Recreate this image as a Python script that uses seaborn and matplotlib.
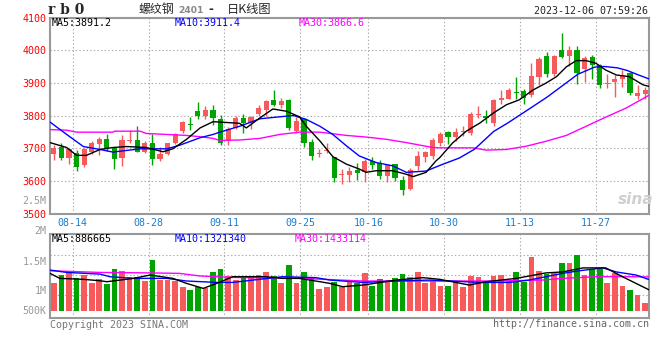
import numpy as np
import pandas as pd
import seaborn as sns
import matplotlib.pyplot as plt

W, H = 660, 360

# trading days shown: 08-09 .. 12-05 (79 days), x = day index
tick_labels = ['08-14', '08-28', '09-11', '09-25', '10-16', '10-30', '11-13', '11-27']
tick_days = [3, 13, 23, 33, 42, 52, 62, 72]

opens = [3681, 3704, 3669, 3686, 3648, 3688, 3712, 3727, 3702, 3670,
         3722, 3724, 3689, 3717, 3666, 3683, 3717, 3752, 3774, 3813,
         3798, 3816, 3790, 3722, 3762, 3793, 3777, 3806, 3818, 3848,
         3833, 3848, 3752, 3788, 3719, 3681, 3691, 3673, 3617, 3617,
         3633, 3626, 3661, 3654, 3615, 3651, 3602, 3575, 3645, 3673,
         3675, 3717, 3748, 3734, 3751, 3746, 3803, 3799, 3778, 3847,
         3852, 3871, 3875, 3862, 3918, 3981, 3926, 3999, 3981, 4002,
         3943, 3979, 3955, 3895, 3903, 3911, 3930, 3859, 3867]
closes = [3702, 3669, 3696, 3643, 3697, 3715, 3727, 3700, 3666, 3724,
          3724, 3689, 3717, 3668, 3681, 3715, 3742, 3780, 3771, 3800,
          3818, 3793, 3717, 3759, 3793, 3777, 3796, 3823, 3843, 3831,
          3843, 3762, 3783, 3717, 3676, 3684, 3694, 3610, 3621, 3631,
          3623, 3661, 3648, 3615, 3648, 3610, 3572, 3633, 3675, 3687,
          3726, 3743, 3734, 3751, 3754, 3805, 3806, 3791, 3847, 3854,
          3877, 3868, 3855, 3920, 3974, 3928, 3981, 3979, 3999, 3930,
          3977, 3955, 3893, 3898, 3913, 3921, 3869, 3869, 3879]
highs = [3709, 3717, 3702, 3693, 3702, 3722, 3733, 3742, 3705, 3739,
         3757, 3769, 3722, 3742, 3704, 3717, 3747, 3783, 3796, 3840,
         3830, 3833, 3803, 3765, 3800, 3806, 3798, 3833, 3848, 3877,
         3853, 3851, 3796, 3793, 3727, 3698, 3715, 3673, 3636, 3641,
         3654, 3666, 3674, 3664, 3651, 3653, 3615, 3638, 3690, 3692,
         3731, 3748, 3753, 3763, 3768, 3812, 3829, 3817, 3852, 3877,
         3884, 3918, 3882, 3961, 3979, 3994, 3984, 4052, 4014, 4014,
         3981, 3984, 3958, 3926, 3923, 3940, 3933, 3893, 3886]
lows = [3664, 3664, 3653, 3631, 3641, 3683, 3679, 3691, 3636, 3646,
        3717, 3688, 3686, 3649, 3661, 3680, 3712, 3745, 3757, 3788,
        3790, 3772, 3709, 3709, 3759, 3747, 3759, 3798, 3800, 3828,
        3823, 3755, 3745, 3704, 3664, 3674, 3684, 3597, 3590, 3597,
        3602, 3595, 3636, 3607, 3597, 3600, 3558, 3573, 3634, 3657,
        3667, 3707, 3712, 3722, 3738, 3741, 3791, 3778, 3768, 3835,
        3849, 3852, 3835, 3857, 3893, 3918, 3920, 3977, 3953, 3895,
        3903, 3913, 3883, 3883, 3857, 3888, 3862, 3849, 3852]
# volume, millions of lots
volume = [1.19, 1.51, 1.65, 1.40, 1.51, 1.19, 1.33, 1.13, 1.76, 1.68,
          1.41, 1.41, 1.26, 2.14, 1.30, 1.30, 1.26, 1.02, 0.88, 1.02,
          0.95, 1.65, 1.76, 1.47, 1.30, 1.44, 1.44, 1.51, 1.64, 1.47,
          1.19, 1.93, 1.16, 1.65, 1.41, 0.92, 1.02, 1.23, 1.02, 1.20,
          1.16, 1.61, 1.05, 1.33, 1.30, 1.40, 1.55, 1.44, 1.65, 1.16,
          1.30, 1.05, 1.05, 1.23, 1.02, 1.47, 1.44, 1.23, 1.47, 1.51,
          1.26, 1.65, 1.23, 2.28, 1.69, 1.55, 1.61, 2.00, 2.00, 2.35,
          1.51, 1.75, 1.75, 1.19, 1.61, 1.05, 0.88, 0.67, 0.35]

# moving average lines (x in day index)
ma5_x = [-0.5, 1.7, 3.0, 4.3, 6.1, 7.8, 9.6, 12.2, 14.4, 15.7, 17.5, 19.3, 21.0,
         21.9, 24.5, 25.4, 27.2, 28.9, 30.7, 32.4, 33.3, 35.1, 36.8, 38.6, 40.3,
         41.2, 42.5, 44.7, 46.5, 47.4, 49.1, 50.4, 50.9, 52.6, 54.4, 56.2, 58.0,
         59.7, 61.4, 63.2, 64.9, 66.3, 67.6, 68.9, 70.2, 71.5, 72.8, 74.2, 75.9,
         77.7, 78.5]
ma5_y = [3717, 3702, 3678, 3678, 3696, 3702, 3705, 3702, 3689, 3698, 3727, 3762, 3781,
         3780, 3776, 3762, 3793, 3820, 3813, 3796, 3767, 3722, 3674, 3651, 3636,
         3626, 3631, 3631, 3620, 3613, 3626, 3661, 3671, 3716, 3752, 3777, 3808,
         3833, 3848, 3878, 3899, 3919, 3949, 3968, 3968, 3960, 3939, 3924, 3919,
         3894, 3889]
ma10_x = [-0.5, 1.7, 3.9, 6.1, 7.8, 11.4, 14.9, 16.6, 19.3, 21.0, 21.9, 24.5, 27.2,
          29.8, 31.6, 33.3, 35.1, 36.8, 38.6, 40.3, 42.5, 44.7, 46.5, 49.1, 51.0,
          53.5, 55.5, 58.0, 59.8, 62.5, 65.1, 66.9, 69.1, 71.3, 72.6, 74.3, 75.6,
          76.9, 78.5]
ma10_y = [3780, 3742, 3705, 3696, 3688, 3698, 3698, 3709, 3732, 3742, 3749, 3767, 3790,
          3796, 3800, 3788, 3767, 3742, 3707, 3676, 3656, 3646, 3626, 3630, 3648,
          3670, 3697, 3751, 3776, 3817, 3857, 3888, 3926, 3948, 3950, 3946, 3938,
          3926, 3912]
ma30_x = [-0.5, 1.7, 3.0, 7.8, 8.0, 11.4, 12.2, 14.9, 17.5, 19.3, 21.0, 21.9, 24.5,
          27.2, 29.8, 32.4, 35.1, 38.6, 41.2, 43.9, 46.5, 50.0, 50.9, 55.3, 57.0,
          59.7, 62.3, 64.9, 67.6, 70.2, 72.8, 75.5, 78.5]
ma30_y = [3757, 3755, 3749, 3749, 3752, 3752, 3745, 3742, 3739, 3735, 3730, 3724, 3725,
          3730, 3742, 3749, 3749, 3739, 3734, 3727, 3717, 3702, 3701, 3701, 3694,
          3696, 3706, 3721, 3739, 3767, 3795, 3823, 3862]

vma5_x = [-0.5, 0.8, 3.9, 6.1, 7.0, 10.5, 12.7, 15.7, 17.5, 19.7, 21.5, 23.6, 28.0,
          30.2, 32.4, 35.1, 36.4, 38.1, 40.8, 45.2, 48.7, 50.9, 54.8, 57.0, 61.0,
          64.9, 67.1, 69.8, 72.8, 75.0, 78.5]
vma5_y = [1.58, 1.37, 1.33, 1.27, 1.23, 1.37, 1.51, 1.37, 1.16, 0.95, 1.16, 1.44, 1.44,
          1.37, 1.37, 1.23, 1.16, 1.02, 1.09, 1.30, 1.40, 1.33, 1.09, 1.23, 1.37,
          1.60, 1.64, 1.81, 1.81, 1.44, 0.89]
vma10_x = [-0.5, 1.7, 6.1, 7.4, 10.5, 14.9, 17.5, 21.5, 23.6, 26.3, 30.2, 34.6, 36.4,
           40.8, 45.2, 49.6, 56.2, 60.1, 62.7, 67.1, 69.3, 72.4, 74.2, 76.8, 78.5]
vma10_y = [1.72, 1.62, 1.55, 1.44, 1.37, 1.37, 1.26, 1.20, 1.20, 1.30, 1.44, 1.40, 1.30,
           1.20, 1.26, 1.30, 1.20, 1.20, 1.30, 1.58, 1.69, 1.81, 1.64, 1.51, 1.32]
vma30_x = [-0.5, 6.1, 12.7, 16.6, 19.3, 23.6, 32.4, 36.4, 40.8, 54.0, 58.4, 64.5,
           67.1, 71.5, 75.9, 78.5]
vma30_y = [1.69, 1.62, 1.60, 1.58, 1.47, 1.41, 1.37, 1.32, 1.26, 1.26, 1.26, 1.30,
           1.37, 1.44, 1.44, 1.43]

vol_labels = ['2.5M', '2M', '1.5M', '1M', '500K']

RED = '#f65a5a'
GREEN = '#00a300'
BLUE = '#0000ff'
MAGENTA = '#ff00ff'
FRAME = '#999999'
GRID = '#aaaaaa'


def fx(px):
    return px / W


def fy(py):
    return 1 - py / H


sns.set_style('white')
plt.rcParams['font.family'] = ['DejaVu Sans Mono', 'Noto Sans CJK SC']
plt.rcParams['lines.scale_dashes'] = False
dots = (0, (1.0, 1.6))

fig = plt.figure(figsize=(W / 100, H / 100), dpi=100)
ax = fig.add_axes([fx(50), fy(213.5), (649 - 50) / W, (213.5 - 17.5) / H])
axv = fig.add_axes([fx(50), fy(318), (649 - 50) / W, (318 - 234) / H])

df = pd.DataFrame({'day': np.arange(len(opens)), 'open': opens, 'high': highs,
                   'low': lows, 'close': closes, 'vol': volume})
df['dir'] = np.where(df['close'] >= df['open'], 'up', 'down')
pal = {'up': RED, 'down': GREEN}
cols = df['dir'].map(pal)

# --- price panel ---
ax.vlines(df['day'], df['low'], df['high'], colors=cols, lw=1, zorder=3)
body = (df['close'] - df['open']).abs().clip(lower=3)
ax.bar(df['day'], body, bottom=df[['open', 'close']].min(axis=1), width=0.68,
       color=cols, lw=0, zorder=4)
for xs, ys, c in [(ma30_x, ma30_y, MAGENTA), (ma10_x, ma10_y, BLUE), (ma5_x, ma5_y, 'black')]:
    sns.lineplot(x=xs, y=ys, color=c, lw=1, ax=ax, zorder=5)

ax.set_xlim(-0.5, len(opens) - 0.5)
ax.set_ylim(3500, 4100)
ax.set_yticks(range(3500, 4101, 100))
ax.set_xticks(np.array(tick_days) - 0.5)
ax.set_xticklabels(tick_labels)
ax.set_axisbelow(True)
ax.grid(True, color=GRID, ls=dots, lw=0.8)
ax.tick_params(axis='y', length=0, pad=2.5, labelsize=7.2, labelcolor='#ff0000')
ax.tick_params(axis='x', length=0, pad=3.5, labelsize=7.2, labelcolor='#1a7dd0')
ax.set_xlabel('')
ax.set_ylabel('')

# --- volume panel ---
sns.barplot(data=df, x='day', y='vol', hue='dir', palette=pal, dodge=False, width=0.75,
            saturation=1, legend=False, errorbar=None, ax=axv, lw=0, zorder=3)
for xs, ys, c in [(vma30_x, vma30_y, MAGENTA), (vma10_x, vma10_y, BLUE), (vma5_x, vma5_y, 'black')]:
    sns.lineplot(x=xs, y=ys, color=c, lw=1, ax=axv, zorder=5)
axv.set_xlim(-0.5, len(opens) - 0.5)
vlo, vhi = -7 * 0.042, 77 * 0.042
axv.set_ylim(vlo, vhi)
axv.set_yticks([vlo + f * (vhi - vlo) for f in (0.274, 0.512, 0.75)])
axv.set_xticks(np.array(tick_days) - 0.5)
axv.set_axisbelow(True)
axv.grid(True, color=GRID, ls=dots, lw=0.8)
axv.tick_params(length=0, labelleft=False, labelbottom=False)
axv.set_xlabel('')
axv.set_ylabel('')

for a in (ax, axv):
    for s in a.spines.values():
        s.set_color(FRAME)
        s.set_linewidth(1.5)

# --- texts ---
fs = 7.2
fig.text(fx(48), fy(10.5), 'r b 0', family='DejaVu Serif', weight='bold', fontsize=10,
         va='center', ha='left')
fig.text(fx(139), fy(10), '螺纹钢', family=['Noto Sans CJK SC'], fontsize=8.6,
         va='center', ha='left')
fig.text(fx(178), fy(10.5), '2401', family='DejaVu Sans', weight='bold', fontsize=6.6,
         color='#888888', va='center', ha='left')
fig.text(fx(208), fy(10), '-', family='DejaVu Sans', weight='bold', fontsize=8.5,
         va='center', ha='left')
fig.text(fx(227), fy(10), '日K线图', family=['Noto Sans CJK SC'], fontsize=8.8,
         va='center', ha='left')
fig.text(fx(648), fy(11), '2023-12-06 07:59:26', fontsize=fs, va='center', ha='right')

fig.text(fx(52), fy(23), 'MA5:3891.2', fontsize=fs, va='center', color='black')
fig.text(fx(175), fy(23), 'MA10:3911.4', fontsize=fs, va='center', color=BLUE)
fig.text(fx(299), fy(23), 'MA30:3866.6', fontsize=fs, va='center', color=MAGENTA)

fig.text(fx(52), fy(238.5), 'MA5:886665', fontsize=fs, va='center', color='black')
fig.text(fx(175), fy(238.5), 'MA10:1321340', fontsize=fs, va='center', color=BLUE)
fig.text(fx(295), fy(238.5), 'MA30:1433114', fontsize=fs, va='center', color=MAGENTA)

for lab, py in zip(vol_labels, [201, 231, 262, 291, 311]):
    fig.text(fx(46.5), fy(py), lab, fontsize=fs, va='center', ha='right', color='#999999')

fig.text(fx(50), fy(324.5), 'Copyright 2023 SINA.COM', fontsize=fs, va='center',
         ha='left', color='#777777')
fig.text(fx(649), fy(324), 'http://finance.sina.com.cn', fontsize=fs, va='center',
         ha='right', color='#666666')

fig.text(fx(636), fy(199), 'sina', family='DejaVu Sans', style='italic', weight='bold',
         fontsize=11, color='#cfcfcf', va='center', ha='center')

fig.savefig('out.png', dpi=100)
